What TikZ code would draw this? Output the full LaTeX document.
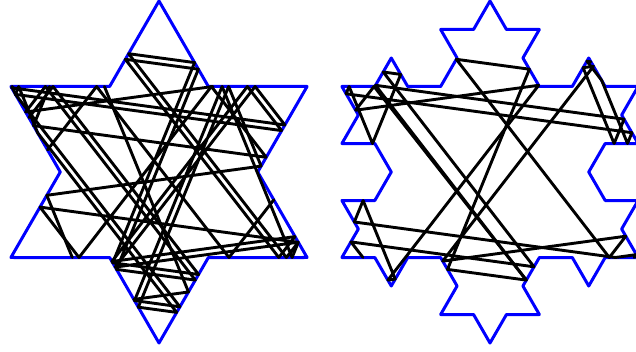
\documentclass[tikz,border=0pt]{standalone}
\usepackage{tikz}
\tikzset{
  wall/.style={draw=blue, line width=3pt, line join=round},
  orbit/.style={draw=black, line width=2.9pt, line join=round, line cap=round}
}
\begin{document}
\begin{tikzpicture}[x=1pt, y=1pt]
  \useasboundingbox (0,0) rectangle (636,-352);
  % star table
  \begin{scope}[shift={(159,-172)}]
    \draw[wall] (90:171) -- (120:98.73) -- (150:171) -- (180:98.73) -- (210:171) -- (240:98.73)
      -- (270:171) -- (300:98.73) -- (330:171) -- (0:98.73) -- (30:171) -- (60:98.73) -- cycle;
    \draw[orbit] (-86.7,-85.5) -- (-112.2,-23.3) -- (102.1,5.9) -- (69.6,85.5) -- (-20.7,-135.2)
      -- (17.7,-140.4) -- (-121.3,39.1) -- (-140.3,85.5) -- (-143.5,77.6) -- (122.6,41.4)
      -- (88.4,85.5) -- (-47.1,-89.5) -- (136.0,-64.6) -- (119.8,-85.5) -- (-33.7,112.7)
      -- (39.4,102.8) -- (-42.5,-97.4) -- (36.3,-108.1) -- (-113.6,85.5) -- (-133.4,60.0)
      -- (54.0,85.5);
    \draw[orbit] (-109.5,85.5) -- (-125.5,46.4) -- (107.2,14.7) -- (52.4,85.5) -- (-80.0,-85.5)
      -- (-119.0,-35.1) -- (139.3,-70.3) -- (133.1,-85.5) -- (63.1,85.5) -- (-24.5,-128.6)
      -- (20.9,-134.8) -- (-143.6,77.7) -- (-146.8,85.5) -- (-147.3,84.2) -- (125.9,47.0)
      -- (96.1,85.5) -- (-43.8,-95.1) -- (139.3,-70.2) -- (127.4,-85.5) -- (-30.4,118.3)
      -- (35.6,109.4) -- (-46.3,-90.8) -- (39.6,-102.5) -- (-106.0,85.5) -- (-130.1,54.4);
    \draw[orbit] (-25.2,-127.4) -- (29.5,-120.0) -- (-54.6,85.5);
    \draw[orbit] (114.8,-27.8) -- (70.0,-85.5) -- (-62.4,85.5) -- (-111.5,22.1);
  \end{scope}
  % snowflake table
  \begin{scope}[shift={(490,-172)}]
    \draw[wall] (0,171) \foreach \a in {240,180,300,240,0,300,60,0,120,60,180,120} {
      -- ++(\a:32.91) -- ++(\a-60:32.91) -- ++(\a+60:32.91) -- ++(\a:32.91) } -- cycle;
    \draw[orbit] (-33.7,112.7) -- (39.4,102.8) -- (-42.5,-97.4) -- (36.3,-108.1) -- (-114.5,86.7)
      -- (134.1,52.8) -- (124.1,28.5) -- (93.1,104.3) -- (103.5,105.7) -- (-47.3,-89.1)
      -- (135.8,-64.2) -- (119.3,-85.5) -- cycle;
    \draw[orbit] (36.3,-108.1) -- (-116.0,85.5) -- (-134.4,61.8) -- (48.7,86.7) -- (-102.1,-108.1)
      -- (-94.8,-107.1) -- (-126.9,-28.5) -- (-135.7,-50.0) -- (125.4,-85.5) -- (146.4,-82.6)
      -- (144.2,-85.5);
    \draw[orbit] (-127.0,-85.5) -- (-139.1,-69.9) -- (44.0,-94.8) -- (-106.8,100.0)
      -- (-89.3,97.6) -- (-117.5,28.5) -- (-140.9,85.5) -- (-143.9,78.2) -- (141.9,39.3)
      -- (137.5,28.5) -- (111.6,91.8) -- (96.9,110.8) -- (100.9,110.2);
  \end{scope}
\end{tikzpicture}
\end{document}
